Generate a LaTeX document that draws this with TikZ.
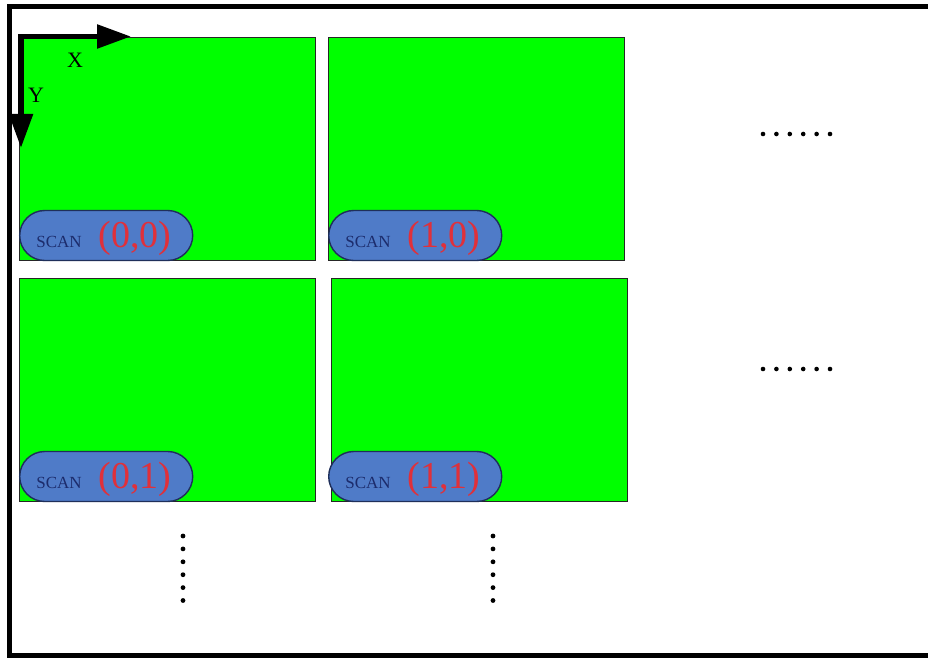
\documentclass[tikz,border=0pt]{standalone}
\usepackage{fontspec}
\setmainfont{Liberation Serif}
\usetikzlibrary{arrows.meta}
\definecolor{tilegreen}{HTML}{00FF00}
\definecolor{pillblue}{HTML}{4F7BC8}
\definecolor{pillline}{HTML}{1F2F5A}
\definecolor{scannavy}{HTML}{1C2C6C}
\definecolor{coordred}{HTML}{E0303A}
\tikzset{
  tile/.style={draw=black!85, line width=1.2pt, fill=tilegreen, minimum width=296pt, minimum height=223pt, anchor=north west, inner sep=0pt},
  pill/.style={draw=pillline, line width=1.4pt, fill=pillblue, minimum width=173pt, minimum height=50pt, rounded corners=25pt, anchor=south west, inner sep=0pt},
  scanlbl/.style={text=scannavy, font=\fontsize{17}{17}\selectfont, inner sep=0pt},
  coordlbl/.style={text=coordred, font=\fontsize{38}{38}\selectfont, inner sep=0pt},
  axis/.style={line width=5.5pt, line join=miter, {Triangle[length=34pt,width=23pt]}-{Triangle[length=34pt,width=23pt]}},
  axlbl/.style={font=\fontsize{22}{22}\selectfont, inner sep=0pt},
  dot/.style={fill=black}
}
\begin{document}
\begin{tikzpicture}[x=1pt,y=-1pt]
\useasboundingbox (0,0) rectangle (928,658);
\fill[white] (0,0) rectangle (928,658);
% outer frame
\draw[line width=5.5pt, line join=miter] (940,6.5) -- (9.5,6.5) -- (9.5,655.5) -- (940,655.5);
% tiles
\node[tile] (t00) at (19,37) {};
\node[tile] (t10) at (328,37) {};
\node[tile] (t01) at (19,278) {};
\node[tile] (t11) at (331,278) {};
% pills
\foreach \t/\lbl/\dx in {t00/{(0,0)}/0, t10/{(1,0)}/0, t01/{(0,1)}/0, t11/{(1,1)}/-3} {
  \node[pill] (p\t) at ([xshift=\dx pt]\t.south west) {};
  \node[scanlbl] (s\t) at ([xshift=40pt, yshift=-6pt]p\t.west) {SCAN};
  \node[coordlbl] (c\t) at ([xshift=116pt, yshift=-3pt]p\t.west) {\lbl};
}
% axes
\coordinate (o) at (21,36.5);
\coordinate (xend) at (131,36.5);
\coordinate (yend) at (21,148);
\draw[axis] (xend) -- (o) -- (yend);
\node[axlbl] (xl) at (75,60) {X};
\node[axlbl] (yl) at (36,95) {Y};
% dots
\foreach \k in {0,...,5} {
  \fill[dot] (763+13.4*\k,134) circle (2.3pt);
  \fill[dot] (763+13.4*\k,369) circle (2.3pt);
  \fill[dot] (183,536+12.9*\k) circle (2.4pt);
  \fill[dot] (493,536+12.9*\k) circle (2.4pt);
}
\end{tikzpicture}
\end{document}
